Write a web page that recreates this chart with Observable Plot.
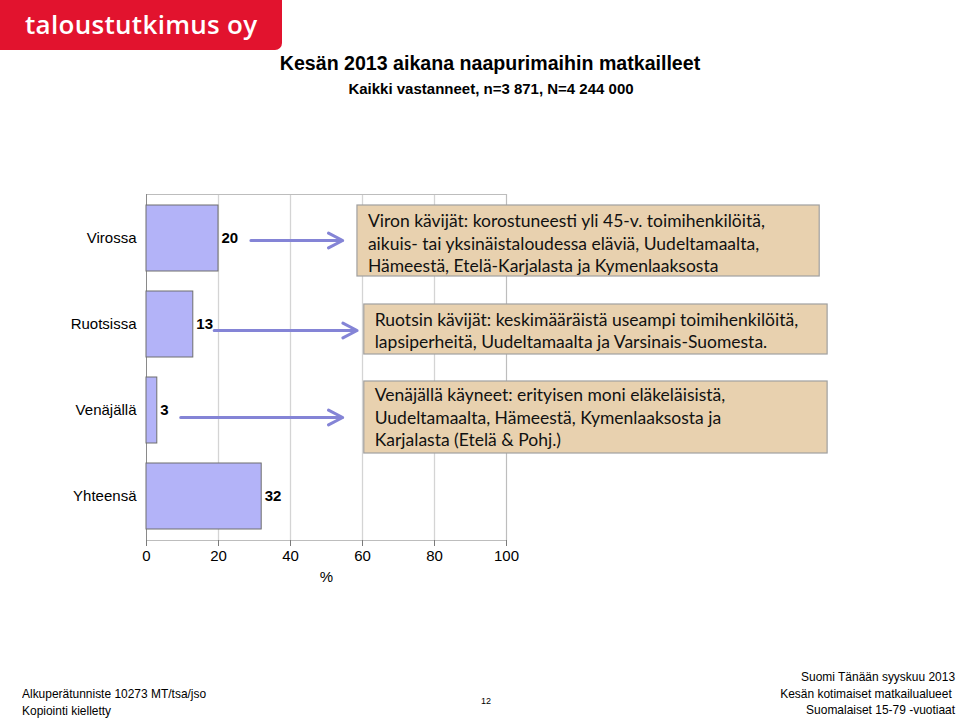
<!DOCTYPE html>
<html>
<head>
<meta charset="utf-8">
<script src="https://cdn.jsdelivr.net/npm/d3@7"></script>
<script src="https://cdn.jsdelivr.net/npm/@observablehq/plot@0.6"></script>
<style>
  html, body { margin: 0; padding: 0; background: #fff; }
  #page { position: relative; width: 960px; height: 718px; overflow: hidden; font-family: "Liberation Sans", Arial, sans-serif; }
  #logo { position: absolute; left: 0; top: 0; width: 282px; height: 50px; background: #e2132e; border-bottom-right-radius: 7px; }
  #logo span { position: absolute; left: 25px; top: 6px; color: #fff; font-family: "Open Sans", sans-serif; font-weight: 600; font-size: 26px; letter-spacing: 0.3px; }
  #title { position: absolute; left: 0; width: 980px; top: 52px; text-align: center; font-weight: bold; font-size: 19.6px; }
  #subtitle { position: absolute; left: 0; width: 982px; top: 80px; text-align: center; font-weight: bold; font-size: 15px; }
  #chart { position: absolute; left: 0; top: 100px; }
  .foot { position: absolute; font-family: "Liberation Sans Narrow", "Arial Narrow", "Liberation Sans", sans-serif; font-size: 13px; color: #000; }
  .foot div { white-space: nowrap; }
  #footL { left: 22px; top: 686px; line-height: 16.5px; transform: scaleX(0.92); transform-origin: left top; }
  #footR { right: 5px; top: 669px; line-height: 16.5px; text-align: right; transform: scaleX(0.92); transform-origin: right top; }
  #pageno { left: 481px; top: 696px; font-size: 9px; }
</style>
</head>
<body>
<div id="page">
  <div id="logo"><span>taloustutkimus oy</span></div>
  <div id="title">Kesän 2013 aikana naapurimaihin matkailleet</div>
  <div id="subtitle">Kaikki vastanneet, n=3 871, N=4 244 000</div>
  <div id="chart"></div>
  <div class="foot" id="footL"><div>Alkuperätunniste 10273 MT/tsa/jso</div><div>Kopiointi kielletty</div></div>
  <div class="foot" id="pageno">12</div>
  <div class="foot" id="footR"><div>Suomi Tänään syyskuu 2013</div><div>Kesän kotimaiset matkailualueet&nbsp;</div><div>Suomalaiset 15-79 -vuotiaat</div></div>
</div>
<script>
// ---- data ----
const categories = ["Virossa", "Ruotsissa", "Venäjällä", "Yhteensä"];
const values = [20, 13, 3, 32];
const xTicks = [0, 20, 40, 60, 80, 100];
const noteCategories = ["Virossa", "Ruotsissa", "Venäjällä"];
const noteTexts = [
  "Viron kävijät: korostuneesti yli 45-v. toimihenkilöitä,\naikuis- tai yksinäistaloudessa eläviä, Uudeltamaalta,\nHämeestä, Etelä-Karjalasta ja Kymenlaaksosta",
  "Ruotsin kävijät: keskimääräistä useampi toimihenkilöitä,\nlapsiperheitä, Uudeltamaalta ja Varsinais-Suomesta.",
  "Venäjällä käyneet: erityisen moni eläkeläisistä,\nUudeltamaalta, Hämeestä, Kymenlaaksosta ja\nKarjalasta (Etelä & Pohj.)"
];

const data = categories.map((c, i) => ({category: c, value: values[i]}));

// annotation layout (in % units of the x scale)
const boxes = [
  {x1: 58.6, x2: 187, insetTop: 0, insetBottom: -5, tx: 61.5, dy: 4, ax1: 29, ax2: 54.5, ady: 2},
  {x1: 60.5, x2: 189.2, insetTop: 13, insetBottom: 3, tx: 63.4, dy: 5, ax1: 18.8, ax2: 58.5, ady: 6},
  {x1: 60.5, x2: 189.2, insetTop: 4, insetBottom: -10, tx: 63.4, dy: 6, ax1: 9.5, ax2: 54.5, ady: 7}
];

const marks = [
  Plot.ruleX(xTicks.slice(1), {stroke: "#d4d4d4", strokeWidth: 1.3}),
  Plot.frame({stroke: "#bdbdbd"}),
  Plot.ruleX([0], {stroke: "#8a8a8a"}),
  Plot.barX(data, {x: "value", y: "category", fill: "#b3b3f8", stroke: "#6e6e6e", strokeWidth: 1}),
  Plot.text(data, {x: "value", y: "category", text: d => String(d.value), textAnchor: "start", dx: 3, fontWeight: "bold", fontSize: 15, fill: "#000"}),
  Plot.axisX(xTicks, {tickSize: 6, tickPadding: 4, fontSize: 15, stroke: "#7a7a7a", color: "#000", label: null})
];

boxes.forEach((b, i) => {
  const row = [{category: noteCategories[i], text: noteTexts[i]}];
  marks.push(
    Plot.arrow(row, {x1: () => b.ax1, x2: () => b.ax2, y1: "category", y2: "category", dy: b.ady,
      stroke: "#8484d6", strokeWidth: 3, headLength: 8, headAngle: 55, bend: 0}),
    Plot.barX(row, {x1: () => b.x1, x2: () => b.x2, y: "category", insetTop: b.insetTop, insetBottom: b.insetBottom,
      fill: "#e8d1af", stroke: "#a0a0a0", strokeWidth: 1.2}),
    Plot.text(row, {x: () => b.tx, y: "category", text: "text", dy: b.dy, textAnchor: "start", lineAnchor: "middle",
      lineHeight: 1.27, fontSize: 17.5, fontFamily: "Lato, 'Open Sans', sans-serif", fill: "#111"})
  );
});

marks.push(Plot.text(["%"], {x: 50, frameAnchor: "bottom", dy: 41, fontSize: 15, fill: "#000"}));

const chart = Plot.plot({
  width: 960,
  height: 500,
  marginTop: 94,
  marginBottom: 60,
  marginLeft: 146,
  marginRight: 454,
  style: {fontFamily: "'Liberation Sans', Arial, sans-serif", fontSize: "15px", color: "#000", overflow: "visible"},
  x: {domain: [0, 100], ticks: xTicks, axis: null},
  y: {domain: categories, paddingInner: 0.233, paddingOuter: 0.128, tickSize: 0, tickPadding: 10, label: null},
  marks
});
document.getElementById("chart").appendChild(chart);
</script>
</body>
</html>
